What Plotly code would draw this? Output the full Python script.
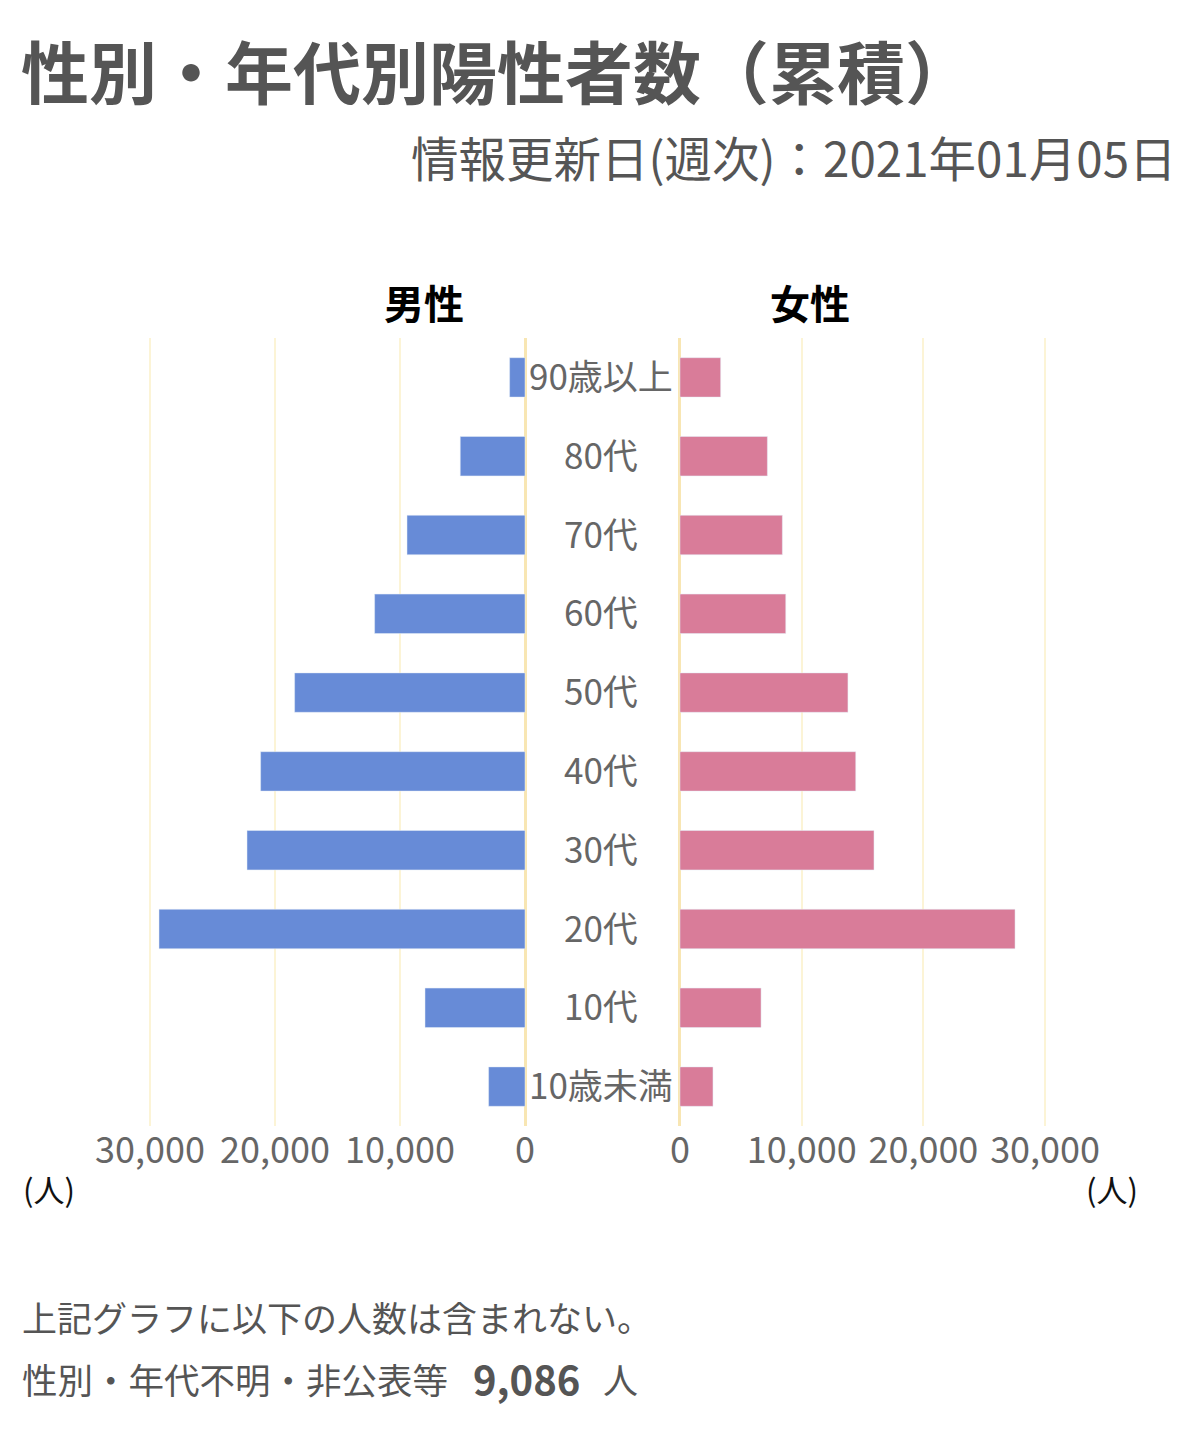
import plotly.graph_objects as go

# ---- data ----
categories = ["90歳以上", "80代", "70代", "60代", "50代", "40代", "30代", "20代", "10代", "10歳未満"]
male = [1230, 5180, 9440, 12030, 18430, 21150, 22240, 29280, 8000, 2910]
female = [3340, 7180, 8410, 8690, 13800, 14440, 15940, 27530, 6660, 2710]
tick_vals = [0, 10000, 20000, 30000]
title_text = "性別・年代別陽性者数（累積）"
subtitle_text = "情報更新日(週次)：2021年01月05日"
male_label = "男性"
female_label = "女性"
unit_label = "(人)"
note_line1 = "上記グラフに以下の人数は含まれない。"
note_line2 = "性別・年代不明・非公表等"
unknown_count = "9,086"
unknown_unit = "人"

# page body has an 8px margin: the figure is sized to fill the rest of the window
OFF = 8
W, H = 1200 - OFF, 1440 - OFF
FONT = "Noto Sans CJK JP, Noto Sans, sans-serif"
MALE_C = "#678bd7"
FEMALE_C = "#d97c99"
GRID_C = "#fcf4d6"
ZERO_C = "#f8e6b3"
TEXT_C = "#555555"


def px(x):
    return (x - OFF) / W


def py(y):
    return 1 - (y - OFF) / H


fig = go.Figure()
fig.add_trace(go.Bar(y=categories, x=male, orientation="h", marker_color=MALE_C,
                     width=0.5, xaxis="x", yaxis="y", showlegend=False))
fig.add_trace(go.Bar(y=categories, x=female, orientation="h", marker_color=FEMALE_C,
                     width=0.5, xaxis="x2", yaxis="y", showlegend=False))

# left axis: 125 px per 10,000 ; right: 121.7 px per 10,000
l_scale = 125 / 10000
r_scale = 121.7 / 10000
l_range = [30400, -200]
r_range = [-200, 30400]
l_left = 525 - l_range[0] * l_scale
l_right = 525 - l_range[1] * l_scale
r_left = 680 + r_range[0] * r_scale
r_right = 680 + r_range[1] * r_scale

tick_font = dict(family=FONT, size=36, color="#666666")
axis_common = dict(tickvals=tick_vals, tickformat=",", showgrid=True, gridcolor=GRID_C,
                   gridwidth=2, zeroline=True, zerolinecolor=ZERO_C, zerolinewidth=3,
                   showline=False, ticks="", tickfont=tick_font, fixedrange=True,
                   automargin=False)

fig.update_layout(
    width=W, height=H, autosize=False,
    margin=dict(l=0, r=0, t=0, b=0, pad=0, autoexpand=False),
    paper_bgcolor="white", plot_bgcolor="white",
    font=dict(family=FONT, color=TEXT_C),
    bargap=0.5,
    xaxis=dict(domain=[px(l_left), px(l_right)], range=l_range, anchor="y", **axis_common),
    xaxis2=dict(domain=[px(r_left), px(r_right)], range=r_range, anchor="y", **axis_common),
    yaxis=dict(domain=[py(1126), py(338)], categoryorder="array",
               categoryarray=categories[::-1], range=[-0.5, len(categories) - 0.5],
               showticklabels=False, showgrid=False, zeroline=False, ticks="",
               fixedrange=True, automargin=False),
)

ann = []


def label(text, x, y, size, color=TEXT_C, xanchor="left", yref="paper", yshift=0):
    ann.append(dict(text=text, x=px(x), y=(py(y) if yref == "paper" else y),
                    xref="paper", yref=yref, xanchor=xanchor, yanchor="middle",
                    yshift=yshift, showarrow=False,
                    font=dict(family=FONT, size=size, color=color)))


label(f"<b>{title_text}</b>", 19, 69, 68)
label(subtitle_text, 1179, 156, 47.5, xanchor="right")
label(f"<b>{male_label}</b>", 424, 302, 40, color="#000000", xanchor="center")
label(f"<b>{female_label}</b>", 810, 302, 40, color="#000000", xanchor="center")
for c in categories:
    label(c, 601, c, 35, color="#666666", xanchor="center", yref="y", yshift=3)
label(unit_label, 49, 1188, 31, color="#111111", xanchor="center")
label(unit_label, 1112, 1188, 31, color="#111111", xanchor="center")
label(note_line1, 20, 1316, 35)
label(note_line2, 20, 1378, 35.5)
label(f"<b>{unknown_count}</b>", 471, 1378, 40)
label(unknown_unit, 601, 1378, 35)
fig.update_layout(annotations=ann)

fig.write_html("out.html", config={"displayModeBar": False, "responsive": False})
